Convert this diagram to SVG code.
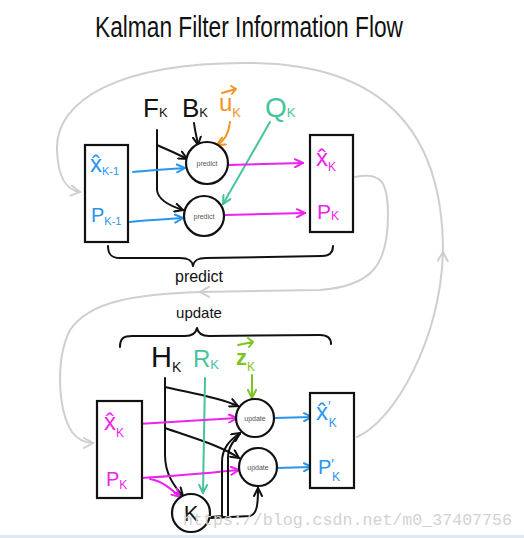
<svg xmlns="http://www.w3.org/2000/svg" width="524" height="538" viewBox="0 0 524 538">
<style>
.ln{fill:none;stroke-width:2;stroke-linecap:round;stroke-linejoin:round}
.k{stroke:#111}
.bl{stroke:#2b95ec}
.mg{stroke:#ee22ee}
.tl{stroke:#45c39d}
.or{stroke:#f5931e}
.gr{stroke:#7cc520}
.gy{stroke:#cfcfcf}
.box{fill:#fff;stroke:#111;stroke-width:2.2}
.node{fill:#fff;stroke:#111;stroke-width:2.2}
.t{font-family:"Liberation Sans","DejaVu Sans",sans-serif}
.small{font-family:"Liberation Sans",sans-serif;font-size:7px;fill:#555;text-anchor:middle}
</style>
<defs>
<marker id="ak" viewBox="0 0 10 10" refX="9" refY="5" markerWidth="10" markerHeight="10" markerUnits="userSpaceOnUse" orient="auto"><path d="M1,1 L9,5 L1,9" fill="none" stroke="#111" stroke-width="2" stroke-linecap="round"/></marker>
<marker id="ab" viewBox="0 0 10 10" refX="9" refY="5" markerWidth="10" markerHeight="10" markerUnits="userSpaceOnUse" orient="auto"><path d="M1,1 L9,5 L1,9" fill="none" stroke="#2b95ec" stroke-width="2" stroke-linecap="round"/></marker>
<marker id="am" viewBox="0 0 10 10" refX="9" refY="5" markerWidth="10" markerHeight="10" markerUnits="userSpaceOnUse" orient="auto"><path d="M1,1 L9,5 L1,9" fill="none" stroke="#ee22ee" stroke-width="2" stroke-linecap="round"/></marker>
<marker id="at" viewBox="0 0 10 10" refX="9" refY="5" markerWidth="10" markerHeight="10" markerUnits="userSpaceOnUse" orient="auto"><path d="M1,1 L9,5 L1,9" fill="none" stroke="#45c39d" stroke-width="2" stroke-linecap="round"/></marker>
<marker id="ao" viewBox="0 0 10 10" refX="9" refY="5" markerWidth="10" markerHeight="10" markerUnits="userSpaceOnUse" orient="auto"><path d="M1,1 L9,5 L1,9" fill="none" stroke="#f5931e" stroke-width="2" stroke-linecap="round"/></marker>
<marker id="ag" viewBox="0 0 10 10" refX="9" refY="5" markerWidth="10" markerHeight="10" markerUnits="userSpaceOnUse" orient="auto"><path d="M1,1 L9,5 L1,9" fill="none" stroke="#7cc520" stroke-width="2" stroke-linecap="round"/></marker>
<marker id="ay" viewBox="0 0 12 12" refX="10" refY="6" markerWidth="12" markerHeight="12" markerUnits="userSpaceOnUse" orient="auto"><path d="M1,1 L10,6 L1,11" fill="none" stroke="#cfcfcf" stroke-width="2" stroke-linecap="round"/></marker>
</defs>
<rect width="524" height="538" fill="#fff"/>

<text class="t" x="95" y="37" font-size="30" textLength="308" lengthAdjust="spacingAndGlyphs" fill="#111">Kalman Filter Information Flow</text>

<g id="connectors">
  <path class="ln gy" d="M357,437 C395,420 440,340 443,252" marker-end="url(#ay)"/>
  <path class="ln gy" d="M443,252 C443,150 400,64 250,63 C120,62 55,100 57,150 C58,178 66,190 80,192" marker-end="url(#ay)"/>
  <path class="ln gy" d="M355,177 C380,172 388,180 388,215 C388,265 372,286 320,290 L200,292" marker-end="url(#ay)"/>
  <path class="ln gy" d="M200,292 C140,294 90,300 70,330 C55,360 58,410 72,432 C78,440 85,443 93,443" marker-end="url(#ay)"/>

  <path class="ln k" d="M157,130 L157,190 C158,200 170,206 183,210" marker-end="url(#ak)"/>
  <path class="ln k" d="M157,145 C168,150 178,154 187,159" marker-end="url(#ak)"/>
  <path class="ln k" d="M194,123 C195,132 197,138 198,145" marker-end="url(#ak)"/>
  <path class="ln or" d="M230,122 C229,132 226,140 217,145" marker-end="url(#ao)"/>
  <path class="ln tl" d="M270,122 L223,204" marker-end="url(#at)"/>
  <path class="ln bl" d="M133,172 C150,170 168,169 185,168" marker-end="url(#ab)"/>
  <path class="ln bl" d="M130,222 C150,220 168,219 183,218" marker-end="url(#ab)"/>
  <path class="ln mg" d="M228,165 L303,163" marker-end="url(#am)"/>
  <path class="ln mg" d="M225,215 L305,213" marker-end="url(#am)"/>

  <path class="ln k" d="M165,378 L165,455 C165,474 174,486 183,496" marker-end="url(#ak)"/>
  <path class="ln k" d="M165,387 C185,392 215,396 238,406" marker-end="url(#ak)"/>
  <path class="ln k" d="M165,428 C190,437 220,445 239,458" marker-end="url(#ak)"/>
  <path class="ln tl" d="M205,378 L203,493" marker-end="url(#at)"/>
  <path class="ln gr" d="M252,375 L252,398" marker-end="url(#ag)"/>
  <path class="ln mg" d="M138,424 C170,422 205,420 237,418" marker-end="url(#am)"/>
  <path class="ln mg" d="M142,478 C175,476 208,473 239,470" marker-end="url(#am)"/>
  <path class="ln mg" d="M150,479 C162,481 170,488 180,497" marker-end="url(#am)"/>
  <path class="ln k" d="M211,517 L222,516 L222,462 C222,448 230,440 240,433" marker-end="url(#ak)"/>
  <path class="ln k" d="M211,517 L228,517 L228,458 C228,447 234,440 240,434"/>
  <path class="ln k" d="M211,518 L250,516 C257,514 258,505 258,488" marker-end="url(#ak)"/>
  <path class="ln bl" d="M274,418 L312,417" marker-end="url(#ab)"/>
  <path class="ln bl" d="M276,468 L312,467" marker-end="url(#ab)"/>

  <path class="ln k" d="M108,246 C108,255 112,258 120,258 L180,258 C188,258 192,260 193,266 C194,260 198,258 206,258 L322,256 C330,256 333,252 333,246"/>
  <path class="ln k" d="M120,347 C120,338 124,336 132,336 L185,336 C193,336 196,333 197,328 C198,333 201,336 209,336 L320,335 C328,335 331,338 331,344"/>
</g>

<text class="t" x="199" y="282" font-size="16" text-anchor="middle" fill="#111">predict</text>
<text class="t" x="199" y="318" font-size="15" text-anchor="middle" fill="#111">update</text>

<g id="inputs-predict">
  <text class="t" x="143" y="117" font-size="26" fill="#111">F<tspan font-size="13">K</tspan></text>
  <text class="t" x="182" y="117" font-size="26" fill="#111">B<tspan font-size="13">K</tspan></text>
  <text class="t" x="219" y="111" font-size="24" fill="#f5931e">u<tspan font-size="13" dy="6">K</tspan></text>
  <path class="ln or" d="M222,93 L236,89 M231,86 L236,89 L232,94"/>
  <text class="t" x="265" y="117" font-size="28" fill="#45c39d">Q<tspan font-size="13">K</tspan></text>
</g>

<g id="box-prev">
  <rect class="box" x="85" y="145" width="43" height="97"/>
  <text class="t" x="90" y="172" font-size="24" fill="#2b95ec">x̂<tspan font-size="11" dy="3">K-1</tspan></text>
  <text class="t" x="91" y="222" font-size="20" fill="#2b95ec">P<tspan font-size="11" dy="3">K-1</tspan></text>
</g>

<g id="predict-x">
  <circle class="node" cx="207" cy="163" r="21"/>
  <text class="small" x="207" y="166">predict</text>
</g>
<g id="predict-p">
  <circle class="node" cx="204" cy="216" r="20"/>
  <text class="small" x="204" y="219">predict</text>
</g>

<g id="box-pred">
  <rect class="box" x="310" y="135" width="43" height="97"/>
  <text class="t" x="316" y="166" font-size="24" fill="#ee22ee">x̂<tspan font-size="12" dy="5">K</tspan></text>
  <text class="t" x="317" y="219" font-size="21" fill="#ee22ee">P<tspan font-size="12" dy="1">K</tspan></text>
</g>

<g id="inputs-update">
  <text class="t" x="151" y="367" font-size="29" fill="#111">H<tspan font-size="14" dy="5">K</tspan></text>
  <text class="t" x="193" y="367" font-size="24" fill="#45c39d">R<tspan font-size="13" dy="2">K</tspan></text>
  <text class="t" x="236" y="365" font-size="22" font-weight="bold" fill="#7cc520">z<tspan font-size="12" font-weight="normal" dy="6">K</tspan></text>
  <path class="ln gr" d="M238,345 L253,342 M248,338 L253,342 L249,347"/>
</g>

<g id="box-upd-in">
  <rect class="box" x="97" y="401" width="45" height="97"/>
  <text class="t" x="104" y="430" font-size="24" fill="#ee22ee">x̂<tspan font-size="12" dy="7">K</tspan></text>
  <text class="t" x="106" y="486" font-size="20" fill="#ee22ee">P<tspan font-size="12" dy="3">K</tspan></text>
</g>

<g id="update-x">
  <circle class="node" cx="255" cy="418" r="19"/>
  <text class="small" x="255" y="421">update</text>
</g>
<g id="update-p">
  <circle class="node" cx="258" cy="467" r="19"/>
  <text class="small" x="258" y="470">update</text>
</g>
<g id="gain">
  <circle class="node" cx="191" cy="513" r="19"/>
  <text class="t" x="191" y="521" font-size="22" text-anchor="middle" fill="#111">K</text>
</g>

<g id="box-upd-out">
  <rect class="box" x="310" y="393" width="44" height="95"/>
  <text class="t" x="316" y="420" font-size="24" fill="#2b95ec">x̂<tspan font-size="14" dy="-9">′</tspan><tspan font-size="12" dx="-2" dy="16">K</tspan></text>
  <text class="t" x="318" y="474" font-size="20" fill="#2b95ec">P<tspan font-size="14" dy="-5">′</tspan><tspan font-size="12" dx="-2" dy="12">K</tspan></text>
</g>

<text x="183" y="525" font-family="Liberation Mono, monospace" font-size="17" textLength="329" lengthAdjust="spacingAndGlyphs" fill="#d2d2d2">https://blog.csdn.net/m0_37407756</text>
<rect x="0" y="535" width="524" height="3" fill="#dde9f3"/>
</svg>
